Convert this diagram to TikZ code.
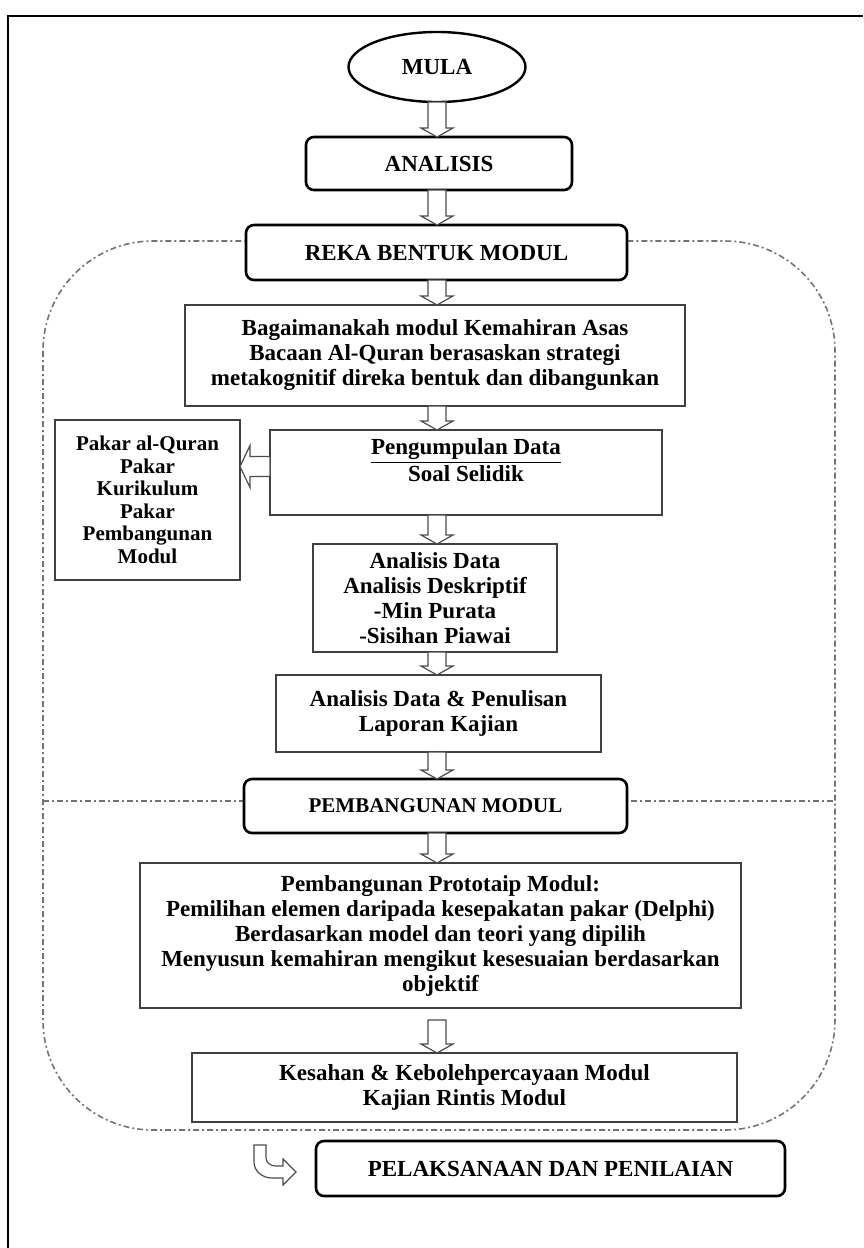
\documentclass[tikz,border=0pt]{standalone}
\usepackage{fontspec}
\setmainfont{Liberation Serif}
\usepackage{tikz}
\usetikzlibrary{positioning,calc,shapes.geometric}

% hollow block arrows between two points
\newcommand{\blockdown}[2]{%
  \draw[hollowarrow] let \p1=#1, \p2=#2 in
    (\x1-4.5pt,\y1) -- (\x1-4.5pt,\y2+4.5pt) -- (\x1-8pt,\y2+4.5pt) -- (\x1,\y2)
    -- (\x1+8pt,\y2+4.5pt) -- (\x1+4.5pt,\y2+4.5pt) -- (\x1+4.5pt,\y1) -- cycle;}
\newcommand{\blockleft}[2]{%
  \draw[hollowarrow] let \p1=#1, \p2=#2 in
    (\x1,\y1+5pt) -- (\x2+5pt,\y1+5pt) -- (\x2+5pt,\y1+10.5pt) -- (\x2,\y1)
    -- (\x2+5pt,\y1-10.5pt) -- (\x2+5pt,\y1-5pt) -- (\x1,\y1-5pt) -- cycle;}

\begin{document}
\begin{tikzpicture}[x=0.5pt, y=-0.5pt, outer sep=0pt,
    font=\bfseries\fontsize{11.5}{12.5}\selectfont,
    stagebox/.style={draw, line width=1.3pt, rounded corners=4pt, fill=white, align=center, inner sep=2pt},
    infobox/.style={draw=black!75, line width=0.8pt, fill=white, align=center, inner sep=2pt},
    hollowarrow/.style={draw=black!70, line width=0.6pt, fill=white},
    region/.style={draw=black!55, line width=0.8pt, dash pattern=on 3pt off 1.5pt on 1pt off 1.5pt}]
    \useasboundingbox (0,0) rectangle (863,1248);
    \draw[line width=1.2pt] (8,1248) -- (8,16) -- (863,16);

    % design and development phase
    \draw[region, rounded corners=55pt] (43,241) rectangle (835,1130);
    \draw[region] (43,801) -- (835,801);
    \coordinate (ax) at (437,0);

    \node [draw, ellipse, line width=1.2pt, minimum width=88.5pt, minimum height=35pt, inner sep=0pt] (mula) at (437,67) {MULA};
    \node [stagebox, minimum width=133pt, minimum height=26.5pt, below=17.5pt of mula, xshift=1pt] (analisis) {ANALISIS};
    \node [stagebox, minimum width=190.5pt, minimum height=27.5pt, below=17.5pt of analisis, xshift=-1.25pt] (reka) {REKA BENTUK MODUL};

    \node [infobox, minimum width=250pt, minimum height=50.5pt, below=12.5pt of reka, xshift=-0.75pt] (bagai) {Bagaimanakah modul Kemahiran Asas\\Bacaan Al-Quran berasaskan strategi\\metakognitif direka bentuk dan dibangunkan};
    \node [infobox, minimum width=196pt, minimum height=42.5pt, below=12pt of bagai, xshift=15.5pt] (pengum) {\underline{Pengumpulan Data}\\Soal Selidik\\\mbox{}};
    \node [infobox, minimum width=92.5pt, minimum height=80pt, left=15pt of pengum.north west, anchor=north east, yshift=5pt,
        font=\bfseries\fontsize{10.5}{11.25}\selectfont] (pakar) {Pakar al-Quran\\Pakar\\Kurikulum\\Pakar\\Pembangunan\\Modul};
    \node [infobox, minimum width=122pt, minimum height=54pt, below=14.5pt of pengum, xshift=-15.5pt] (data) {Analisis Data\\Analisis Deskriptif\\-Min Purata\\-Sisihan Piawai};
    \node [infobox, minimum width=162.5pt, minimum height=38.5pt, below=11.5pt of data, xshift=1.75pt] (laporan) {Analisis Data \& Penulisan\\Laporan Kajian};

    \node [stagebox, minimum width=191.5pt, minimum height=27pt, below=13.5pt of laporan, xshift=-1.5pt,
        font=\bfseries\fontsize{10.5}{12}\selectfont] (bina) {PEMBANGUNAN MODUL};
    \node [infobox, minimum width=300.5pt, minimum height=72.5pt, below=15pt of bina, xshift=2.5pt] (proto) {Pembangunan Prototaip Modul:\\Pemilihan elemen daripada kesepakatan pakar (Delphi)\\Berdasarkan model dan teori yang dipilih\\Menyusun kemahiran mengikut kesesuaian berdasarkan\\objektif};
    \node [infobox, minimum width=272.5pt, minimum height=34.5pt, below=22.5pt of proto, xshift=12pt] (sah) {Kesahan \& Kebolehpercayaan Modul\\Kajian Rintis Modul};
    \node [stagebox, minimum width=234.5pt, minimum height=27.5pt, below=9.5pt of sah, xshift=43pt] (laksana) {PELAKSANAAN DAN PENILAIAN};

    \blockdown{(mula.south -| ax)}{(analisis.north -| ax)}
    \blockdown{(analisis.south -| ax)}{(reka.north -| ax)}
    \blockdown{(reka.south -| ax)}{(bagai.north -| ax)}
    \blockdown{(bagai.south -| ax)}{(pengum.north -| ax)}
    \blockleft{($(pengum.west)+(0,-6)$)}{(pakar.east)}
    \blockdown{(pengum.south -| ax)}{(data.north -| ax)}
    \blockdown{(data.south -| ax)}{(laporan.north -| ax)}
    \blockdown{(laporan.south -| ax)}{(bina.north -| ax)}
    \blockdown{(bina.south -| ax)}{(proto.north -| ax)}
    \blockdown{($(proto.south -| ax)+(0,12)$)}{(sah.north -| ax)}

    % turn arrow towards the last stage
    \draw[hollowarrow] (254,1145) -- (266,1145) -- (266,1158) to[out=-90, in=180] (276,1166) -- (283,1166)
        -- (283,1159) -- (296,1172) -- (283,1185) -- (283,1178) -- (272,1178) to[out=180, in=-90] (254,1162) -- cycle;
\end{tikzpicture}
\end{document}
